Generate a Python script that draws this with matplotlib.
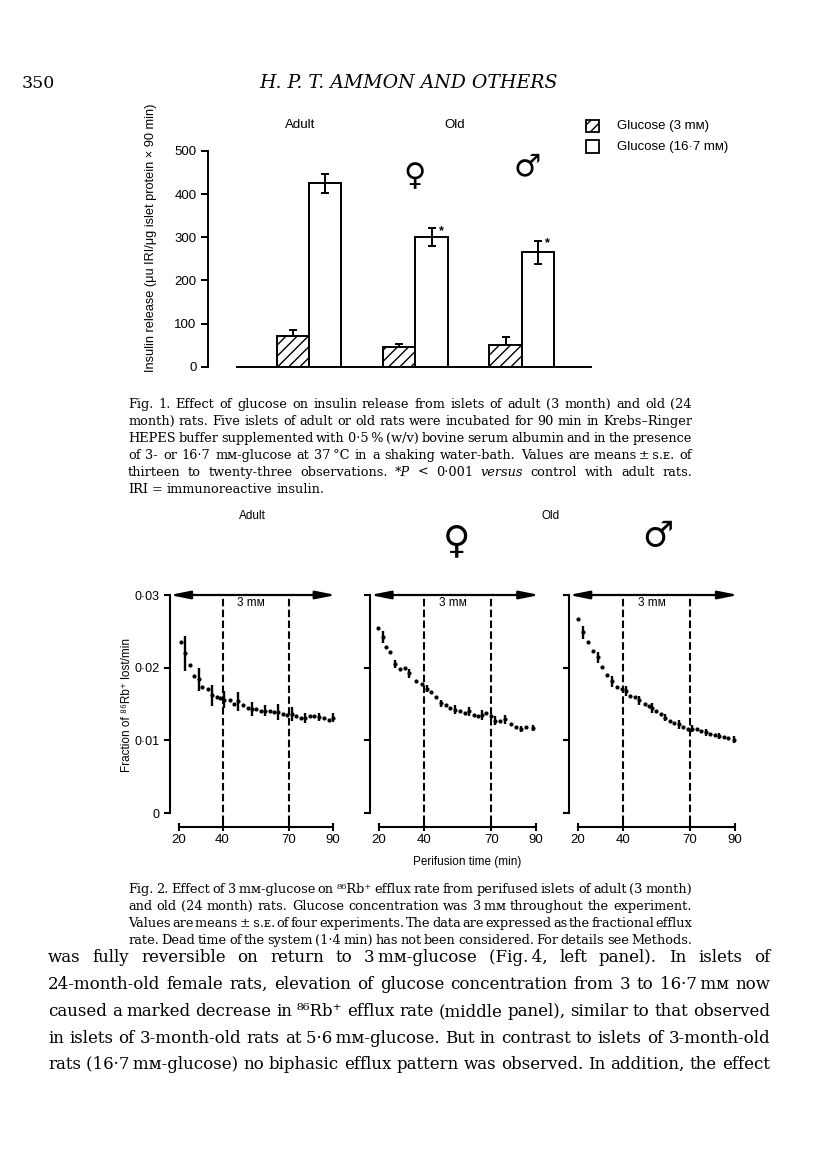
import matplotlib
matplotlib.use('Agg')
import matplotlib.pyplot as plt
from matplotlib.patches import Rectangle

W, H = 816, 1168
SANS = ['Liberation Sans', 'DejaVu Sans']
SERIF = ['DejaVu Serif', 'DejaVu Sans']

# ---------------- Fig. 1 data ----------------
group_names = ['Adult', 'Old female', 'Old male']
ins_3 = [72, 45, 50]
ins_3_err = [12, 7, 19]
ins_16 = [425, 300, 265]
ins_16_err = [22, 21, 27]
ins_16_sig = [False, True, True]
ins_yticks = [0, 100, 200, 300, 400, 500]

# ---------------- Fig. 2 data ----------------
t_adult = [21.1, 22.9, 25.3, 27.1, 29.1, 30.9, 33.2, 35.3, 37.5, 39.0, 40.9, 43.2,
           45.0, 47.1, 49.3, 51.4, 53.4, 55.4, 57.3, 59.4, 61.4, 63.4, 65.3, 67.5,
           69.3, 71.7, 73.5, 75.6, 77.6, 79.9, 81.7, 83.8, 86.2, 88.2, 90.3]
rb_adult = [0.0235, 0.0220, 0.0203, 0.0189, 0.0184, 0.0173, 0.0170, 0.0162, 0.0160,
            0.0158, 0.0156, 0.0155, 0.0150, 0.0154, 0.0148, 0.0144, 0.0143, 0.0143,
            0.0141, 0.0141, 0.0140, 0.0139, 0.0139, 0.0136, 0.0135, 0.0136, 0.0133,
            0.0131, 0.0131, 0.0133, 0.0133, 0.0132, 0.0131, 0.0128, 0.0131]
err_adult = [0, 0.0024, 0, 0, 0.0016, 0, 0, 0.00145, 0, 0, 0.00115, 0, 0, 0.0013, 0,
             0, 0.0010, 0, 0, 0.0008, 0, 0, 0.0011, 0, 0, 0.0010, 0, 0, 0.00065, 0,
             0, 0.0005, 0, 0, 0.0006]

t_fem = [19.7, 21.6, 23.1, 25.0, 27.2, 29.4, 31.5, 33.5, 36.3, 39.3, 41.2, 43.2,
         45.3, 47.4, 49.7, 51.8, 54.0, 56.2, 58.5, 60.3, 62.5, 64.1, 66.0, 67.9,
         69.9, 71.8, 73.8, 76.2, 78.7, 80.9, 83.1, 85.5, 88.5]
rb_fem = [0.0255, 0.0242, 0.0228, 0.0222, 0.0205, 0.0198, 0.0199, 0.0192, 0.0182,
          0.0177, 0.0171, 0.0166, 0.0159, 0.0151, 0.0148, 0.0145, 0.0142, 0.0140,
          0.0137, 0.0140, 0.0135, 0.0134, 0.0135, 0.0137, 0.0134, 0.0127, 0.0127,
          0.0129, 0.0123, 0.0119, 0.0116, 0.0118, 0.0117]
err_fem = [0, 0.0008, 0, 0, 0.0006, 0, 0, 0.0006, 0, 0, 0.0005, 0, 0, 0.0005, 0,
           0, 0.0006, 0, 0, 0.0006, 0, 0, 0.00065, 0, 0, 0.0006, 0, 0.0006, 0, 0,
           0.0004, 0, 0.0004]

t_male = [20.1, 22.2, 24.6, 26.9, 28.8, 30.7, 32.9, 35.3, 37.6, 39.6, 41.5, 43.4,
          45.4, 47.5, 49.8, 51.6, 53.1, 55.0, 57.2, 59.1, 61.3, 63.1, 65.0, 67.0,
          69.0, 71.0, 73.0, 75.0, 77.0, 79.0, 81.0, 83.0, 85.0, 87.0, 89.5]
rb_male = [0.0267, 0.0249, 0.0235, 0.0223, 0.0214, 0.0201, 0.0190, 0.0181, 0.0174,
           0.0170, 0.0168, 0.0161, 0.0159, 0.0155, 0.0150, 0.0147, 0.0144, 0.0141,
           0.0136, 0.0131, 0.0127, 0.0124, 0.0122, 0.0118, 0.0116, 0.0116, 0.0115,
           0.0113, 0.0111, 0.0109, 0.0108, 0.0106, 0.0105, 0.0103, 0.0101]
err_male = [0, 0.0009, 0, 0, 0.00076, 0, 0, 0.00076, 0, 0, 0.00074, 0, 0, 0.0006, 0,
            0, 0.0007, 0, 0, 0.00046, 0, 0, 0.0006, 0, 0, 0.0005, 0, 0, 0.0005, 0,
            0, 0.0004, 0, 0, 0.0005]

rb_xticks = [20, 40, 70, 90]
rb_yticks = [0, 0.01, 0.02, 0.03]
rb_yticklabels = ['0', '0·01', '0·02', '0·03']
glucose_switch = [40, 70]

plt.rcParams['hatch.linewidth'] = 1.0
fig = plt.figure(figsize=(W / 100, H / 100), dpi=100)
fig.patch.set_facecolor('white')


def axes_px(l, t, r, b):
    return fig.add_axes([l / W, 1 - b / H, (r - l) / W, (b - t) / H])


def ftext(x, y, s, **kw):
    return fig.text(x / W, 1 - y / H, s, **kw)


# ---------------- Fig. 1 ----------------
ax1 = axes_px(207.7, 151, 591, 366.7)
ax1.set_xlim(-0.952, 2.65)
ax1.set_ylim(0, 500)
bw = 0.305
gx = list(range(len(group_names)))
x3 = [g - bw / 2 for g in gx]
x16 = [g + bw / 2 for g in gx]
ax1.bar(x3, ins_3, width=bw, color='white', edgecolor='black', hatch='///', linewidth=1.4, zorder=2)
ax1.bar(x16, ins_16, width=bw, color='white', edgecolor='black', linewidth=1.4, zorder=2)
ax1.errorbar(x3, ins_3, yerr=[[0] * len(ins_3), ins_3_err], fmt='none', ecolor='black',
             elinewidth=1.4, capsize=3.2, capthick=1.4, zorder=3)
ax1.errorbar(x16, ins_16, yerr=ins_16_err, fmt='none', ecolor='black',
             elinewidth=1.4, capsize=3.2, capthick=1.4, zorder=3)
for xx, yy, ee, sg in zip(x16, ins_16, ins_16_err, ins_16_sig):
    if sg:
        ax1.text(xx + 0.09, yy + ee - 6, '*', fontsize=9, family=SANS, ha='center', va='center',
                 fontweight='bold')
for s in ['top', 'right']:
    ax1.spines[s].set_visible(False)
ax1.spines['left'].set_bounds(0, 500)
ax1.spines['bottom'].set_bounds(-0.677, 2.65)
for s in ['left', 'bottom']:
    ax1.spines[s].set_linewidth(1.4)
ax1.set_xticks([])
ax1.set_yticks(ins_yticks)
ax1.set_yticklabels([str(v) for v in ins_yticks], family=SANS, fontsize=9.5)
ax1.tick_params(axis='y', length=5, width=1.4, pad=3)
ax1.patch.set_alpha(0)

ftext(151, 238, 'Insulin release (μu IRI/μg islet protein × 90 min)', rotation=90,
      ha='center', va='center', family=SANS, fontsize=9.2)
ftext(300, 125, 'Adult', ha='center', va='center', family=SANS, fontsize=9.5)
ftext(455, 125, 'Old', ha='center', va='center', family=SANS, fontsize=9.5)
ftext(415, 177, '♀', ha='center', va='center', family=['DejaVu Sans'], fontsize=22)
ftext(527, 167, '♂', ha='center', va='center', family=['DejaVu Sans'], fontsize=22)

# legend
fig.add_artist(Rectangle((585.7 / W, 1 - 131.7 / H), 13.6 / W, 11.7 / H, transform=fig.transFigure,
                         facecolor='white', edgecolor='black', hatch='///', linewidth=1.3))
fig.add_artist(Rectangle((585.7 / W, 1 - 153.3 / H), 13.6 / W, 13.3 / H, transform=fig.transFigure,
                         facecolor='white', edgecolor='black', linewidth=1.3))
ftext(617, 125.5, 'Glucose (3 mᴍ)', ha='left', va='center', family=SANS, fontsize=9.5)
ftext(617, 147, 'Glucose (16·7 mᴍ)', ha='left', va='center', family=SANS, fontsize=9.5)

# ---------------- Fig. 2 ----------------
panels = [
    (169.7, 336.9, t_adult, rb_adult, err_adult),
    (370.2, 540.5, t_fem, rb_fem, err_fem),
    (568.9, 739.2, t_male, rb_male, err_male),
]
for i, (l, r, tt, vv, ee) in enumerate(panels):
    ax = axes_px(l, 595, r, 813)
    ax.set_xlim(16, 92)
    ax.set_ylim(0, 0.03)
    ax.patch.set_alpha(0)
    ybot = -10 / 218 * 0.03
    for xv in glucose_switch:
        ax.plot([xv, xv], [ybot, 0.03], color='black', lw=1.5, ls=(0, (3.6, 1.6)), clip_on=False, zorder=1)
    ax.annotate('', xy=(91.6, 0.03), xytext=(16, 0.03),
                arrowprops=dict(arrowstyle='<|-|>,head_length=0.6,head_width=0.12',
                                mutation_scale=20, lw=1.6, color='black', shrinkA=0, shrinkB=0),
                annotation_clip=False)
    ax.text(53, 0.0289, '3 mᴍ', ha='center', va='center', family=SANS, fontsize=8.5)
    ax.errorbar(tt, vv, yerr=ee, fmt='none', ecolor='black', elinewidth=1.7, capsize=0,
                clip_on=False, zorder=3)
    ax.plot(tt, vv, 'o', ms=2.0, color='black', mec='black', clip_on=False, zorder=4)
    for s in ['top', 'right']:
        ax.spines[s].set_visible(False)
    ax.spines['left'].set_bounds(0, 0.03)
    ax.spines['left'].set_linewidth(1.5)
    ax.spines['bottom'].set_position(('outward', 10))
    ax.spines['bottom'].set_bounds(20, 90)
    ax.spines['bottom'].set_linewidth(1.5)
    ax.set_xticks(rb_xticks)
    ax.set_xticklabels([str(v) for v in rb_xticks], family=SANS, fontsize=9.5)
    ax.tick_params(axis='x', direction='inout', length=6, width=1.5, pad=2)
    ax.set_yticks(rb_yticks)
    if i == 0:
        ax.set_yticklabels(rb_yticklabels, family=SANS, fontsize=9)
    else:
        ax.set_yticklabels([])
    ax.tick_params(axis='y', length=4, width=1.5, pad=3)

ftext(127, 705, 'Fraction of ⁸⁶Rb⁺ lost/min', rotation=90, ha='center', va='center',
      family=SANS, fontsize=8.5)
ftext(467, 862, 'Perifusion time (min)', ha='center', va='center', family=SANS, fontsize=8.5)
ftext(252, 516, 'Adult', ha='center', va='center', family=SANS, fontsize=8.5)
ftext(551, 516, 'Old', ha='center', va='center', family=SANS, fontsize=8.5)
ftext(457, 542, '♀', ha='center', va='center', family=['DejaVu Sans'], fontsize=27)
ftext(658, 536, '♂', ha='center', va='center', family=['DejaVu Sans'], fontsize=25)

# ---------------- page text ----------------
renderer = fig.canvas.get_renderer()


def fit_size(lines, justify, target, size0):
    # font size whose natural line width (normal spaces) fills the measure, taken over lines
    ratios = []
    for line, just in zip(lines, justify):
        if not just:
            continue
        t = ftext(0, 0, line.replace('~', ''), fontsize=size0, family=SERIF)
        ratios.append(target / t.get_window_extent(renderer).width)
        t.remove()
    ratios.sort()
    return size0 * ratios[len(ratios) // 2]


def put_lines(lines, x0, x1, baselines, size, justify):
    for line, yb, just in zip(lines, baselines, justify):
        words = line.split(' ')
        objs = []
        for w in words:
            style = 'normal'
            if w.startswith('~'):
                w = w[1:]
                style = 'italic'
            objs.append(ftext(0, yb, w, fontsize=size, family=SERIF, style=style,
                              va='baseline', ha='left'))
        widths = [o.get_window_extent(renderer).width for o in objs]
        if just and len(objs) > 1:
            gap = max((x1 - x0 - sum(widths)) / (len(objs) - 1), 1.5)
        else:
            gap = size * 100 / 72 * 0.32
        x = x0
        for o, w in zip(objs, widths):
            o.set_x(x / W)
            x += w + gap


ftext(22, 88, '350', ha='left', va='baseline', family=SERIF, fontsize=12.5)
ftext(408, 88, 'H. P. T. AMMON AND OTHERS', ha='center', va='baseline', family=SERIF,
      style='italic', fontsize=13.6)

cap1 = [
    'Fig. 1. Effect of glucose on insulin release from islets of adult (3 month) and old (24',
    'month) rats. Five islets of adult or old rats were incubated for 90 min in Krebs–Ringer',
    'HEPES buffer supplemented with 0·5\u2009% (w/v) bovine serum albumin and in the presence',
    'of 3- or 16·7 mᴍ-glucose at 37\u2009°C in a shaking water-bath. Values are means\u2009±\u2009s.ᴇ. of',
    'thirteen to twenty-three observations. ~*P < 0·001 ~versus control with adult rats.',
    'IRI = immunoreactive insulin.',
]
cap2 = [
    'Fig. 2. Effect of 3\u2009mᴍ-glucose on ⁸⁶Rb⁺ efflux rate from perifused islets of adult (3 month)',
    'and old (24 month) rats. Glucose concentration was 3\u2009mᴍ throughout the experiment.',
    'Values are means\u2009±\u2009s.ᴇ. of four experiments. The data are expressed as the fractional efflux',
    'rate. Dead time of the system (1·4 min) has not been considered. For details see Methods.',
]
body = [
    'was fully reversible on return to 3\u2009mᴍ-glucose (Fig.\u20094, left panel). In islets of',
    '24-month-old female rats, elevation of glucose concentration from 3 to 16·7\u2009mᴍ now',
    'caused a marked decrease in ⁸⁶Rb⁺ efflux rate (middle panel), similar to that observed',
    'in islets of 3-month-old rats at 5·6\u2009mᴍ-glucose. But in contrast to islets of 3-month-old',
    'rats (16·7\u2009mᴍ-glucose) no biphasic efflux pattern was observed. In addition, the effect',
]
j1 = [1, 1, 1, 1, 1, 0]
j2 = [1, 1, 1, 1]
jb = [1, 1, 1, 1, 1]
cap_size = min(fit_size(cap1 + cap2, j1 + j2, 564, 9), 9.6)
body_size = min(fit_size(body, jb, 722, 12), 13.0)

put_lines(cap1, 128, 692, [408, 425, 442, 459, 476, 493], cap_size, j1)
put_lines(cap2, 128, 692, [893, 910, 927, 944], cap_size, j2)
put_lines(body, 48, 770, [962, 989, 1016, 1043, 1069], body_size, jb)

fig.savefig('out.png', dpi=100, facecolor='white')
